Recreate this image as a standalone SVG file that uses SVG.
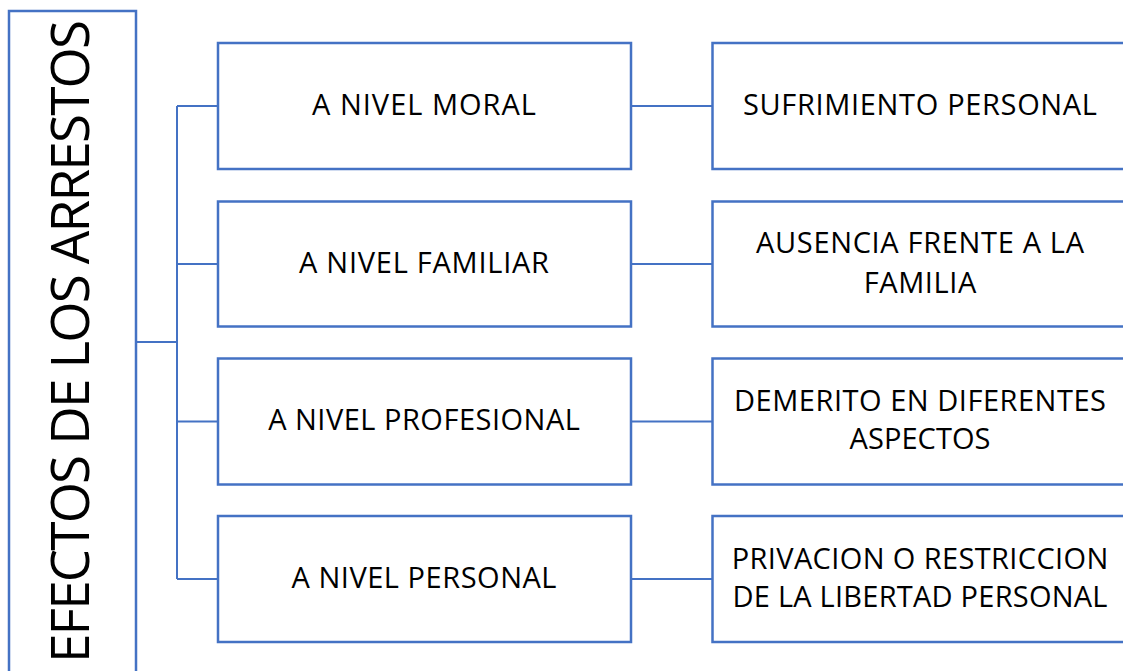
<svg xmlns="http://www.w3.org/2000/svg" width="1123" height="671" viewBox="0 0 1123 671">
<style>
.box{fill:#fff;stroke:#4472C4;stroke-width:2.5}
.con{fill:none;stroke:#4472C4;stroke-width:2}
.t{font-family:"Open Sans","Noto Sans",sans-serif;font-size:29px;fill:#000;text-anchor:middle}
.big{font-family:"Open Sans","Noto Sans",sans-serif;font-size:53px;fill:#000;text-anchor:middle}
</style>
<rect width="1123" height="671" fill="#fff"/>
<g id="connectors">
<path class="con" d="M136 342H177M177 106V579M177 106H218M177 264H218M177 421.5H218M177 579H218"/>
<path class="con" d="M631 106H712M631 264H712M631 421.5H712M631 579H712"/>
</g>
<g id="root">
<rect class="box" x="9" y="11" width="127" height="700"/>
<text class="big" transform="translate(89.3 341.5) rotate(-90)" textLength="643" lengthAdjust="spacing">EFECTOS DE LOS ARRESTOS</text>
</g>
<g id="moral">
<rect class="box" x="218" y="43" width="413" height="126"/>
<text class="t" x="424" y="115" textLength="224" lengthAdjust="spacing">A NIVEL MORAL</text>
</g>
<g id="familiar">
<rect class="box" x="218" y="201.5" width="413" height="125"/>
<text class="t" x="424" y="272.7" textLength="250" lengthAdjust="spacing">A NIVEL FAMILIAR</text>
</g>
<g id="profesional">
<rect class="box" x="218" y="358.5" width="413" height="126"/>
<text class="t" x="424" y="430" textLength="311.7" lengthAdjust="spacing">A NIVEL PROFESIONAL</text>
</g>
<g id="personal">
<rect class="box" x="218" y="516" width="413" height="126"/>
<text class="t" x="424" y="588" textLength="265" lengthAdjust="spacing">A NIVEL PERSONAL</text>
</g>
<g id="sufrimiento">
<rect class="box" x="712.5" y="43" width="418" height="126"/>
<text class="t" x="920" y="115" textLength="354" lengthAdjust="spacing">SUFRIMIENTO PERSONAL</text>
</g>
<g id="ausencia">
<rect class="box" x="712.5" y="201.5" width="418" height="125"/>
<text class="t" x="920" y="253.3" textLength="328" lengthAdjust="spacing">AUSENCIA FRENTE A LA</text>
<text class="t" x="920" y="293.3" textLength="112.7" lengthAdjust="spacing">FAMILIA</text>
</g>
<g id="demerito">
<rect class="box" x="712.5" y="358.5" width="418" height="126"/>
<text class="t" x="920" y="411" textLength="372" lengthAdjust="spacing">DEMERITO EN DIFERENTES</text>
<text class="t" x="920" y="449.3" textLength="141" lengthAdjust="spacing">ASPECTOS</text>
</g>
<g id="privacion">
<rect class="box" x="712.5" y="516" width="418" height="126"/>
<text class="t" x="920" y="569" textLength="376.7" lengthAdjust="spacing">PRIVACION O RESTRICCION</text>
<text class="t" x="920" y="607.3" textLength="375" lengthAdjust="spacing">DE LA LIBERTAD PERSONAL</text>
</g>
</svg>
